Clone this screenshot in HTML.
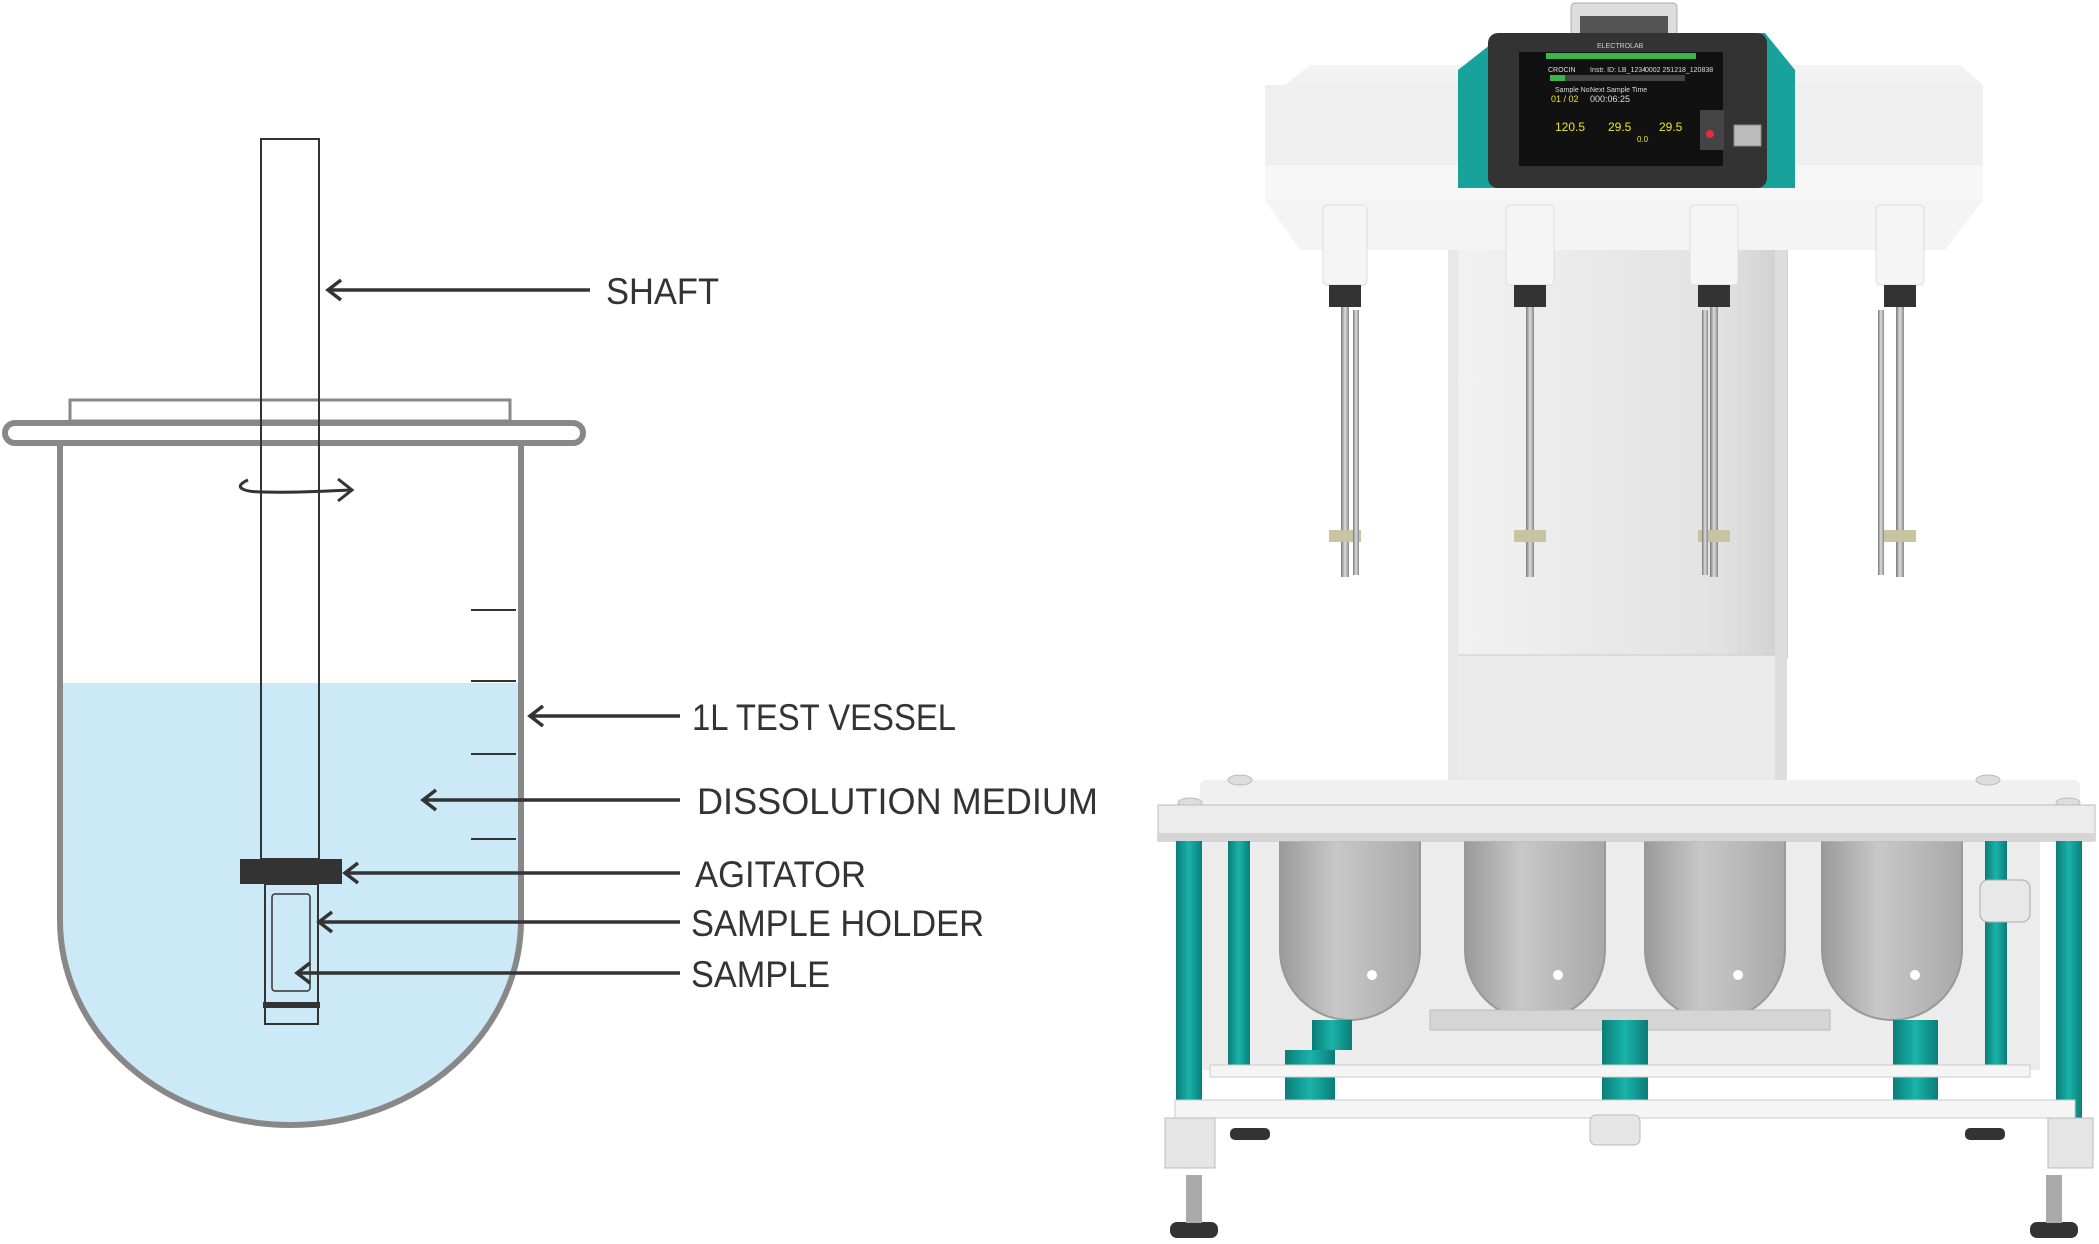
<!DOCTYPE html>
<html><head><meta charset="utf-8"><style>
html,body{margin:0;padding:0;background:#fff}
svg{display:block}
text{font-family:"Liberation Sans",sans-serif}
</style></head><body>
<svg width="2099" height="1244" viewBox="0 0 2099 1244" xmlns="http://www.w3.org/2000/svg">
<defs>
<linearGradient id="rod" x1="0" x2="1"><stop offset="0" stop-color="#777"/><stop offset=".5" stop-color="#ddd"/><stop offset="1" stop-color="#888"/></linearGradient>
<linearGradient id="teal" x1="0" x2="1"><stop offset="0" stop-color="#0a7d78"/><stop offset=".5" stop-color="#1ab3aa"/><stop offset="1" stop-color="#0a7d78"/></linearGradient>
<linearGradient id="head" x1="0" y1="0" x2="0" y2="1"><stop offset="0" stop-color="#f4f4f4"/><stop offset=".7" stop-color="#e6e6e6"/><stop offset="1" stop-color="#d2d2d2"/></linearGradient>
<linearGradient id="panel" x1="0" x2="1"><stop offset="0" stop-color="#f2f2f2"/><stop offset=".8" stop-color="#e2e2e2"/><stop offset="1" stop-color="#cfcfcf"/></linearGradient>
<linearGradient id="bowl" x1="0" x2="1"><stop offset="0" stop-color="#9a9a9a"/><stop offset=".4" stop-color="#c8c8c8"/><stop offset="1" stop-color="#a8a8a8"/></linearGradient>
</defs>
<!-- LEFT DIAGRAM -->
<path d="M63 683 H518 V920 A227.5 202 0 0 1 63 920 Z" fill="#cce9f8"/>
<path d="M60 444 V920 A230.5 205 0 0 0 521 920 V444" fill="none" stroke="#888" stroke-width="6"/>
<rect x="70" y="400" width="440" height="21" fill="#fff" stroke="#888" stroke-width="3"/>
<rect x="5" y="423" width="578" height="20" rx="10" fill="#fff" stroke="#888" stroke-width="6"/>
<rect x="261" y="139" width="58" height="720" fill="none" stroke="#333" stroke-width="2"/>
<g stroke="#333" stroke-width="2"><line x1="471" y1="610" x2="516" y2="610"/><line x1="471" y1="681" x2="516" y2="681"/><line x1="471" y1="754" x2="516" y2="754"/><line x1="471" y1="839" x2="516" y2="839"/></g>
<path d="M248 480 C232 487 243 492 263 492 C298 493 328 491 350 490" fill="none" stroke="#333" stroke-width="3"/>
<path d="M338 479 L352 490 L338 501" fill="none" stroke="#333" stroke-width="3"/>
<rect x="240" y="859" width="102" height="25" fill="#333"/>
<rect x="265" y="884" width="53" height="140" fill="none" stroke="#333" stroke-width="2"/>
<rect x="272" y="894" width="38" height="97" rx="3" fill="none" stroke="#333" stroke-width="1.5"/>
<rect x="263" y="1002" width="57" height="6" fill="#333"/>
<g stroke="#333" stroke-width="3.5" fill="none">
<line x1="328" y1="290" x2="590" y2="290"/><path d="M341 280 L328 290 L341 300"/>
<line x1="530" y1="716" x2="680" y2="716"/><path d="M543 706 L530 716 L543 726"/>
<line x1="423" y1="800" x2="680" y2="800"/><path d="M436 790 L423 800 L436 810"/>
<line x1="345" y1="873" x2="680" y2="873"/><path d="M358 863 L345 873 L358 883"/>
<line x1="319" y1="922" x2="680" y2="922"/><path d="M332 912 L319 922 L332 932"/>
<line x1="297" y1="973" x2="680" y2="973"/><path d="M310 963 L297 973 L310 983"/>
</g>
<g fill="#333" font-size="37">
<text x="606" y="304" textLength="113" lengthAdjust="spacingAndGlyphs">SHAFT</text>
<text x="692" y="730" textLength="264" lengthAdjust="spacingAndGlyphs">1L TEST VESSEL</text>
<text x="697" y="814" textLength="401" lengthAdjust="spacingAndGlyphs">DISSOLUTION MEDIUM</text>
<text x="695" y="887" textLength="171" lengthAdjust="spacingAndGlyphs">AGITATOR</text>
<text x="691" y="936" textLength="293" lengthAdjust="spacingAndGlyphs">SAMPLE HOLDER</text>
<text x="691" y="987" textLength="139" lengthAdjust="spacingAndGlyphs">SAMPLE</text>
</g>
<!-- RIGHT MACHINE -->
<rect x="1448" y="250" width="340" height="408" fill="url(#panel)"/>
<rect x="1455" y="655" width="326" height="150" fill="#eaeaea" stroke="#ccc"/>
<rect x="1775" y="250" width="12" height="555" fill="#ddd"/>
<rect x="1448" y="250" width="10" height="555" fill="#e8e8e8"/>
<rect x="1571" y="3" width="106" height="32" rx="4" fill="#ddd" stroke="#aaa"/>
<rect x="1580" y="16" width="88" height="17" fill="#555"/>
<path d="M1285 85 L1310 65 H1960 L1983 85 V170 H1285 Z" fill="url(#head)"/>
<rect x="1265" y="85" width="718" height="80" fill="#efefef"/>
<rect x="1265" y="165" width="718" height="37" fill="#f7f7f7"/>
<path d="M1265 200 H1983 L1945 250 H1300 Z" fill="#f4f4f4"/>
<path d="M1458 70 L1505 33 H1765 L1795 70 V188 H1458 Z" fill="#17a39b"/>
<rect x="1488" y="33" width="279" height="155" rx="10" fill="#333"/>
<rect x="1519" y="52" width="204" height="114" fill="#111"/>
<rect x="1546" y="53" width="150" height="6" fill="#3bb54a"/>
<rect x="1550" y="75" width="15" height="6" fill="#3bb54a"/>
<rect x="1565" y="75" width="120" height="6" fill="#444"/>
<text x="1597" y="48" font-size="7" fill="#ccc">ELECTROLAB</text>
<g fill="#ddd" font-size="7"><text x="1548" y="72">CROCIN</text><text x="1590" y="72">Instr. ID: LB_1234</text><text x="1645" y="72">0002 251218_120838</text>
<text x="1555" y="92">Sample No.</text><text x="1590" y="92">Next Sample Time</text><text x="1590" y="102" font-size="9">000:06:25</text></g>
<g fill="#e8e81a"><text x="1551" y="102" font-size="9">01 / 02</text><text x="1555" y="131" font-size="12">120.5</text><text x="1608" y="131" font-size="12">29.5</text><text x="1659" y="131" font-size="12">29.5</text><text x="1637" y="142" font-size="8">0.0</text></g>
<rect x="1700" y="110" width="24" height="40" fill="#444"/>
<circle cx="1710" cy="134" r="4" fill="#e03040"/>
<rect x="1734" y="125" width="27" height="21" fill="#bbb" stroke="#888"/>
<g>
<g transform="translate(1345,0)"><rect x="-22" y="205" width="44" height="80" rx="4" fill="#f5f5f5" stroke="#ddd"/><rect x="-16" y="285" width="32" height="22" fill="#333"/><rect x="-4" y="307" width="8" height="270" fill="url(#rod)"/><rect x="-16" y="530" width="32" height="12" fill="#c8c3a0"/><rect x="8" y="310" width="6" height="265" fill="url(#rod)"/></g>
<g transform="translate(1530,0)"><rect x="-24" y="205" width="48" height="80" rx="4" fill="#f5f5f5" stroke="#ddd"/><rect x="-16" y="285" width="32" height="22" fill="#333"/><rect x="-4" y="307" width="8" height="270" fill="url(#rod)"/><rect x="-16" y="530" width="32" height="12" fill="#c8c3a0"/></g>
<g transform="translate(1714,0)"><rect x="-24" y="205" width="48" height="80" rx="4" fill="#f5f5f5" stroke="#ddd"/><rect x="-16" y="285" width="32" height="22" fill="#333"/><rect x="-4" y="307" width="8" height="270" fill="url(#rod)"/><rect x="-16" y="530" width="32" height="12" fill="#c8c3a0"/><rect x="-12" y="310" width="6" height="265" fill="url(#rod)"/></g>
<g transform="translate(1900,0)"><rect x="-24" y="205" width="48" height="80" rx="4" fill="#f5f5f5" stroke="#ddd"/><rect x="-16" y="285" width="32" height="22" fill="#333"/><rect x="-4" y="307" width="8" height="270" fill="url(#rod)"/><rect x="-16" y="530" width="32" height="12" fill="#c8c3a0"/><rect x="-22" y="310" width="6" height="265" fill="url(#rod)"/></g>
</g>
<rect x="1200" y="840" width="840" height="230" fill="#e4e4e4" opacity=".7"/>
<g fill="url(#bowl)" stroke="#999" stroke-width="2">
<path d="M1280 840 V950 A70 70 0 0 0 1420 950 V840 Z"/>
<path d="M1465 840 V950 A70 70 0 0 0 1605 950 V840 Z"/>
<path d="M1645 840 V950 A70 70 0 0 0 1785 950 V840 Z"/>
<path d="M1822 840 V950 A70 70 0 0 0 1962 950 V840 Z"/>
</g>
<g fill="#fff"><circle cx="1372" cy="975" r="5"/><circle cx="1558" cy="975" r="5"/><circle cx="1738" cy="975" r="5"/><circle cx="1915" cy="975" r="5"/></g>
<rect x="1430" y="1010" width="400" height="20" fill="#d5d5d5" stroke="#bbb"/>
<rect x="1200" y="780" width="880" height="28" rx="6" fill="#f0f0f0"/>
<g fill="#ddd" stroke="#bbb"><ellipse cx="1240" cy="780" rx="12" ry="5"/><ellipse cx="1988" cy="780" rx="12" ry="5"/><ellipse cx="1190" cy="803" rx="12" ry="5"/><ellipse cx="2068" cy="803" rx="12" ry="5"/></g>
<rect x="1158" y="805" width="937" height="36" fill="#ececec" stroke="#bbb"/>
<rect x="1158" y="833" width="937" height="8" fill="#d5d5d5"/>
<g fill="url(#teal)">
<rect x="1176" y="841" width="26" height="280"/><rect x="2056" y="841" width="26" height="280"/>
<rect x="1228" y="841" width="22" height="225"/><rect x="1985" y="841" width="22" height="225"/>
<rect x="1285" y="1050" width="50" height="60"/><rect x="1602" y="1020" width="46" height="90"/><rect x="1893" y="1020" width="45" height="95"/><rect x="1312" y="1020" width="40" height="30"/>
</g>
<rect x="1210" y="1065" width="820" height="12" fill="#f5f5f5" stroke="#ccc"/>
<rect x="1175" y="1100" width="900" height="18" fill="#f5f5f5" stroke="#ccc"/>
<rect x="1165" y="1118" width="50" height="50" fill="#e5e5e5" stroke="#bbb"/><rect x="2048" y="1118" width="45" height="50" fill="#e5e5e5" stroke="#bbb"/>
<g fill="#333"><rect x="1230" y="1128" width="40" height="12" rx="5"/><rect x="1965" y="1128" width="40" height="12" rx="5"/><rect x="1170" y="1222" width="48" height="16" rx="7"/><rect x="2030" y="1222" width="48" height="16" rx="7"/></g>
<rect x="1186" y="1175" width="16" height="48" fill="#aaa"/><rect x="2046" y="1175" width="16" height="48" fill="#aaa"/>
<rect x="1590" y="1115" width="50" height="30" rx="6" fill="#e5e5e5" stroke="#bbb"/>
<rect x="1980" y="880" width="50" height="42" rx="8" fill="#e8e8e8" stroke="#aaa"/>
</svg>
</body></html>
